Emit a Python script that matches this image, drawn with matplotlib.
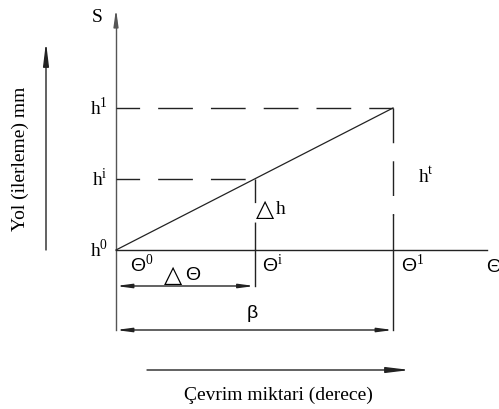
import matplotlib
matplotlib.use("Agg")
import matplotlib.pyplot as plt

plt.rcParams['font.family'] = ['Liberation Serif', 'DejaVu Sans']
plt.rcParams['mathtext.fontset'] = 'custom'
plt.rcParams['mathtext.rm'] = 'Liberation Serif'
plt.rcParams['mathtext.sf'] = 'Liberation Sans'

# schematic values: rotation angle (theta) vs. travel (h)
theta = [0.0, 0.5, 1.0]          # theta0, theta_i, theta1
h = [0.0, 0.5, 1.0]              # h0, h_i, h1
h_labels = [r'$\mathrm{h}^{0}$', r'$\mathrm{h}^{\mathrm{i}}$', r'$\mathrm{h}^{1}$']
theta_labels = [r'$\mathsf{Θ}^{0}$', r'$\mathsf{Θ}^{\mathrm{i}}$', r'$\mathsf{Θ}^{1}$']
ylabel = 'Yol (ilerleme) mm'
xlabel = 'Çevrim miktari (derece)'

# pixel -> data scale (277 px per theta unit, 142 px per h unit)
sx, sy = 277.0, 142.0
x0, y0 = 116.0, 250.0
W, H = 499, 409

def px(x):
    return (x - x0) / sx

def py(y):
    return (y0 - y) / sy

fig = plt.figure(figsize=(W / 100, H / 100), dpi=100)
ax = fig.add_axes([0, 0, 1, 1])
ax.set_xlim(px(0), px(W))
ax.set_ylim(py(H), py(0))
ax.axis('off')

lc = '#222222'

def arrow(x1, y1, x2, y2, style, color=lc, lw=1.0):
    ax.annotate('', xy=(x2, y2), xytext=(x1, y1),
                arrowprops=dict(arrowstyle=style, color=color, lw=lw,
                                shrinkA=0, shrinkB=0, mutation_scale=10))

# axes
ax.plot([0, 0], [py(330), py(20)], color='#555555', lw=1.0)
arrow(0, py(22), 0, py(9), '-|>,head_length=1.0,head_width=0.14', color='#555555')
ax.plot([0, px(487)], [0, 0], color=lc, lw=1.0)
arrow(px(487), 0, px(500), 0, '-|>,head_length=0.9,head_width=0.13')

# travel line
ax.plot([theta[0], theta[2]], [h[0], h[2]], color=lc, lw=0.9)

# dashed guides
ax.plot([0, theta[2]], [h[2], h[2]], color=lc, lw=1.0, linestyle=(8, (25, 13)))
ax.plot([0, theta[1]], [h[1], h[1]], color=lc, lw=1.0, linestyle=(8, (25, 13)))
ax.plot([theta[1], theta[1]], [h[1], h[0]], color=lc, lw=1.0, linestyle=(8, (25, 14)))
ax.plot([theta[1], theta[1]], [h[0], py(286)], color=lc, lw=1.0)
ax.plot([theta[2], theta[2]], [h[2], py(215)], color=lc, lw=1.0, linestyle=(0, (25, 13)))
ax.plot([theta[2], theta[2]], [py(215), py(330)], color=lc, lw=1.0)

# dimension lines
dim = '<|-|>,head_length=0.9,head_width=0.12'
arrow(theta[0], py(286), theta[1], py(286), dim)
arrow(theta[0], py(330), theta[2], py(330), dim)

# side arrows
arrow(px(46), 0, px(46), py(42), '-|>,head_length=1.4,head_width=0.17')
arrow(px(147), py(370), px(410), py(370), '-|>,head_length=1.4,head_width=0.17')

fs = 14
ax.text(px(103), py(17), 'S', fontsize=fs, ha='right', va='center')
for hv, lab in zip(h, h_labels):
    ax.text(px(108), hv, lab, fontsize=fs, ha='right', va='center')
offs = [14, 8, 8]
for tv, lab, o in zip(theta, theta_labels, offs):
    ax.text(tv + o / sx, py(265), lab, fontsize=fs, ha='left', va='center')
ax.text(px(486), py(268), r'$\mathsf{Θ}$', fontsize=fs, ha='left', va='center')
ax.text(px(164), py(275), '△', fontsize=17, ha='left', va='center',
        family='DejaVu Sans')
ax.text(px(185), py(276), 'Θ', fontsize=fs, ha='left', va='center',
        family='Liberation Sans')
ax.text(px(256), py(209), '△', fontsize=17, ha='left', va='center',
        family='DejaVu Sans')
ax.text(px(276), py(210), 'h', fontsize=fs, ha='left', va='center')
ax.text(px(418), py(176), r'$\mathrm{h}^{\mathrm{t}}$', fontsize=fs, ha='left', va='center')
ax.text(px(252), py(314), 'β', fontsize=fs, ha='center', va='center',
        family='Liberation Sans')
ax.text(px(20), py(159), ylabel, fontsize=fs, rotation=90, ha='center', va='center')
ax.text(px(278), py(395), xlabel, fontsize=fs, ha='center', va='center')

fig.savefig('out.png', dpi=100)
